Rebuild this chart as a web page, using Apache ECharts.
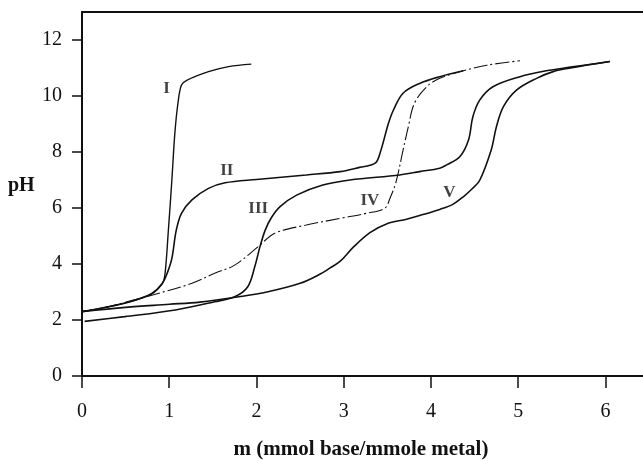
<!DOCTYPE html>
<html><head><meta charset="utf-8">
<script src="https://cdn.jsdelivr.net/npm/echarts@6/dist/echarts.min.js"></script>
<style>html,body{margin:0;padding:0;background:#fff}#c{width:643px;height:461px}</style>
</head><body><div id="c"></div>
<script>
// Data (x: mmol base / mmole metal, y: pH)
const curveI = [[0,2.3],[0.3,2.47],[0.6,2.7],[0.8,2.93],[0.92,3.3],[0.95,3.6],[0.99,5.2],[1.03,7.0],[1.065,8.7],[1.10,9.75],[1.14,10.39],[1.2,10.56],[1.45,10.87],[1.68,11.05],[1.94,11.14]];
const curveII = [[0,2.3],[0.3,2.47],[0.6,2.7],[0.8,2.95],[0.92,3.3],[0.98,3.7],[1.03,4.2],[1.08,5.2],[1.14,5.81],[1.26,6.29],[1.45,6.7],[1.64,6.9],[2.0,7.02],[2.57,7.18],[2.96,7.3],[3.18,7.45],[3.36,7.6],[3.42,8.0],[3.51,9.0],[3.57,9.5],[3.68,10.1],[3.87,10.45],[4.10,10.69],[4.37,10.9]];
const curveIII = [[0.03,1.95],[0.49,2.12],[1.07,2.36],[1.52,2.65],[1.75,2.83],[1.90,3.19],[1.98,3.9],[2.04,4.62],[2.10,5.21],[2.17,5.65],[2.27,6.05],[2.46,6.46],[2.76,6.82],[3.07,7.0],[3.64,7.18],[3.87,7.3],[4.10,7.42],[4.18,7.54],[4.33,7.83],[4.43,8.43],[4.48,9.26],[4.56,9.86],[4.71,10.33],[5.02,10.69],[5.32,10.9],[5.6,11.03],[6.05,11.23]];
const curveIV = [[0,2.3],[0.3,2.47],[0.6,2.72],[0.84,2.92],[1.26,3.31],[1.52,3.67],[1.75,3.96],[2.02,4.62],[2.21,5.1],[2.57,5.39],[2.96,5.63],[3.26,5.81],[3.47,5.99],[3.53,6.35],[3.60,6.94],[3.68,8.07],[3.74,8.9],[3.81,9.74],[3.95,10.33],[4.10,10.63],[4.37,10.9],[4.64,11.1],[5.02,11.26]];
const curveV = [[0,2.3],[0.5,2.45],[1.0,2.56],[1.35,2.64],[1.8,2.83],[2.12,3.0],[2.5,3.31],[2.73,3.64],[2.84,3.85],[2.96,4.1],[3.11,4.6],[3.30,5.12],[3.49,5.43],[3.72,5.6],[3.87,5.73],[4.10,5.95],[4.25,6.13],[4.37,6.4],[4.46,6.65],[4.56,7.0],[4.69,8.07],[4.75,8.9],[4.83,9.62],[4.98,10.21],[5.21,10.63],[5.40,10.87],[5.6,11.0],[6.05,11.23]];
const curveNames = ['I','II','III','IV','V'];
const curveLabelPos = [[0.97,10.26],[1.66,7.35],[2.02,5.99],[3.30,6.28],[4.21,6.55]];
const xTicks = [0,1,2,3,4,5,6];
const yTicks = [0,2,4,6,8,10,12];
const xName = 'm (mmol base/mmole metal)';
const yName = 'pH';

const chart = echarts.init(document.getElementById('c'), null, {renderer:'canvas'});
const serif = '"Liberation Serif","DejaVu Serif",serif';
function lineSeries(name, data, style){
  return {name, type:'line', data, symbol:'none', smooth:0.35,
    lineStyle:Object.assign({color:'#111', width:1.6}, style), z:3, animation:false};
}
chart.setOption({
  animation:false,
  backgroundColor:'#fff',
  grid:{left:82, right:0, top:12, bottom:85, containLabel:false},
  xAxis:[{type:'value', min:0, max:6.43,
    axisLine:{show:true, lineStyle:{color:'#111', width:2}},
    axisTick:{show:true, length:12, inside:false, customValues:xTicks, lineStyle:{color:'#111', width:1.5}},
    axisLabel:{customValues:xTicks, margin:26, color:'#111', fontFamily:serif, fontSize:20},
    splitLine:{show:false}},
   {type:'value', position:'top', min:0, max:6.43,
    axisLine:{show:true, lineStyle:{color:'#111', width:2}},
    axisTick:{show:false}, axisLabel:{show:false}, splitLine:{show:false}}],
  yAxis:{type:'value', min:0, max:13,
    axisLine:{show:true, lineStyle:{color:'#111', width:2}},
    axisTick:{show:true, length:10, customValues:yTicks, lineStyle:{color:'#111', width:1.5}},
    axisLabel:{customValues:yTicks, margin:20, color:'#111', fontFamily:serif, fontSize:20},
    splitLine:{show:false}},
  graphic:[
    {type:'text', x:8, y:186, style:{text:yName, font:'bold 20px '+serif, fill:'#111', textVerticalAlign:'middle'}},
    {type:'text', x:361, y:450, style:{text:xName, font:'bold 21px '+serif, fill:'#111', textAlign:'center', textVerticalAlign:'middle'}}
  ],
  series:[
    lineSeries('I', curveI, {width:1.4}),
    lineSeries('II', curveII, {}),
    lineSeries('III', curveIII, {}),
    lineSeries('IV', curveIV, {width:1.1, type:[14,3,2,3]}),
    lineSeries('V', curveV, {}),
    {type:'scatter', symbolSize:0, z:5, animation:false,
     data:curveLabelPos.map((p,i)=>({value:p, name:curveNames[i]})),
     label:{show:true, position:'inside', formatter:'{b}', color:'#111', fontFamily:serif, fontWeight:'bold', fontSize:17}}
  ]
});
</script></body></html>
